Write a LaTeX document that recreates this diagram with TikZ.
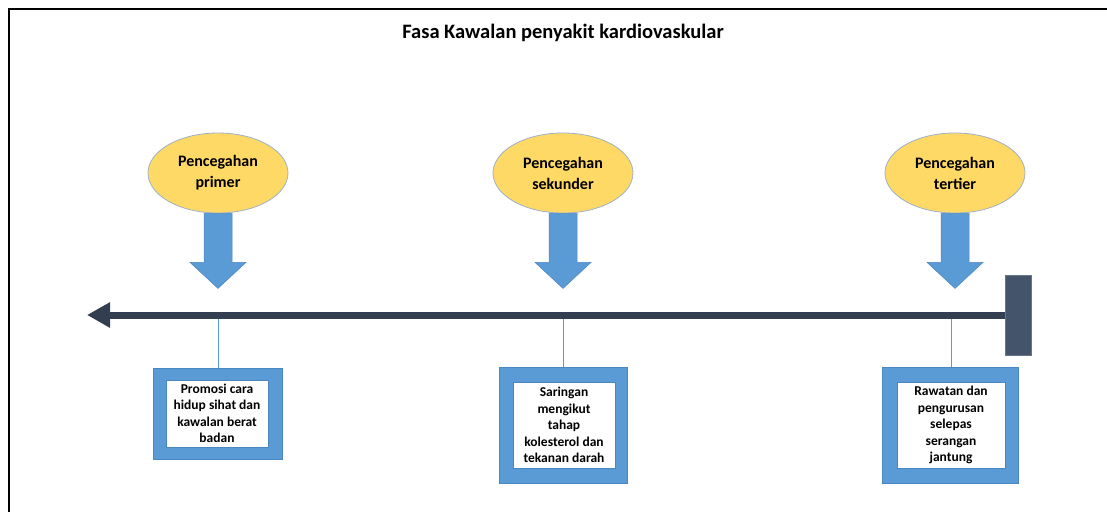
\documentclass[tikz,border=0pt]{standalone}
\usepackage{fontspec}
\setmainfont{Carlito}
\usetikzlibrary{shapes.geometric,arrows.meta}
\definecolor{gold}{HTML}{FFD966}
\definecolor{goldedge}{HTML}{9DB0C8}
\definecolor{blueA}{HTML}{5B9BD5}
\definecolor{blueedge}{HTML}{4A86C0}
\definecolor{lineC}{HTML}{333F50}
\definecolor{barC}{HTML}{44546A}
\tikzset{
  phase/.style={ellipse, draw=goldedge, line width=0.8pt, fill=gold, minimum width=140pt, minimum height=80pt, inner sep=0pt, align=center, font=\fontsize{16}{21}\selectfont\bfseries},
  outerbox/.style={rectangle, fill=blueA, draw=blueedge, line width=0.5pt, inner sep=0pt},
  innerbox/.style={rectangle, fill=white, draw=blueedge, line width=0.3pt, inner sep=0pt, align=center, font=\fontsize{13.5}{16.5}\selectfont\bfseries},
  blockarrow/.style={fill=blueA, draw=blueedge, line width=0.5pt},
  stem/.style={draw=blueA, line width=1pt},
}
\newcommand{\downblock}[1]{%
  \path[blockarrow] (#1) ++(-14,0) -- ++(0,49) -- ++(-14,0) -- ++(28,26) -- ++(28,-26) -- ++(-14,0) -- ++(0,-49) -- cycle;}
\begin{document}
\begin{tikzpicture}[x=1pt,y=-1pt]
\useasboundingbox (0,0) rectangle (1107,511);
% frame
\draw[line width=2.5pt, line cap=rect] (1107,9) -- (9,9) -- (9,511);
% title
\node[font=\fontsize{20.5}{24}\selectfont\bfseries] (title) at (563,33) {Fasa Kawalan penyakit kardiovaskular};
% ellipses
\node[phase] (e1) at (218,173) {Pencegahan\\primer};
\node[phase] (e2) at (563,173) {Pencegahan\\sekunder};
\node[phase] (e3) at (955,173) {Pencegahan\\tertier};
% block arrows
\downblock{e1.south}
\downblock{e2.south}
\downblock{e3.south}
% timeline
\node[rectangle, fill=barC, draw=barC!80!white, line width=0.5pt, minimum width=26pt, minimum height=80pt, inner sep=0pt] (bar) at (1018.5,315) {};
\coordinate (tip) at (87,315);
\draw[lineC, line width=7pt, -{Triangle[length=23pt,width=24pt]}] (bar.west) -- (tip);
% boxes
\node[outerbox, minimum width=129pt, minimum height=91pt] (b1o) at (217.5,413.5) {};
\node[innerbox, minimum width=102pt, minimum height=67pt] (b1) at (217,413.5) {Promosi cara\\hidup sihat dan\\kawalan berat\\badan};
\node[outerbox, minimum width=128pt, minimum height=116pt] (b2o) at (563,425) {};
\node[innerbox, minimum width=102pt, minimum height=86pt] (b2) at (564,425) {Saringan\\mengikut\\tahap\\kolesterol dan\\tekanan darah};
\node[outerbox, minimum width=136pt, minimum height=116pt] (b3o) at (950,425) {};
\node[innerbox, minimum width=108pt, minimum height=86pt] (b3) at (951,425) {Rawatan dan\\pengurusan\\selepas\\serangan\\jantung};
% stems
\coordinate (s1) at (218,318.5);
\coordinate (s2) at (563,318.5);
\coordinate (s3) at (951,318.5);
\draw[stem] (s1) -- (s1 |- b1o.north);
\draw[stem] (s2) -- (s2 |- b2o.north);
\draw[stem] (s3) -- (s3 |- b3o.north);
\end{tikzpicture}
\end{document}
